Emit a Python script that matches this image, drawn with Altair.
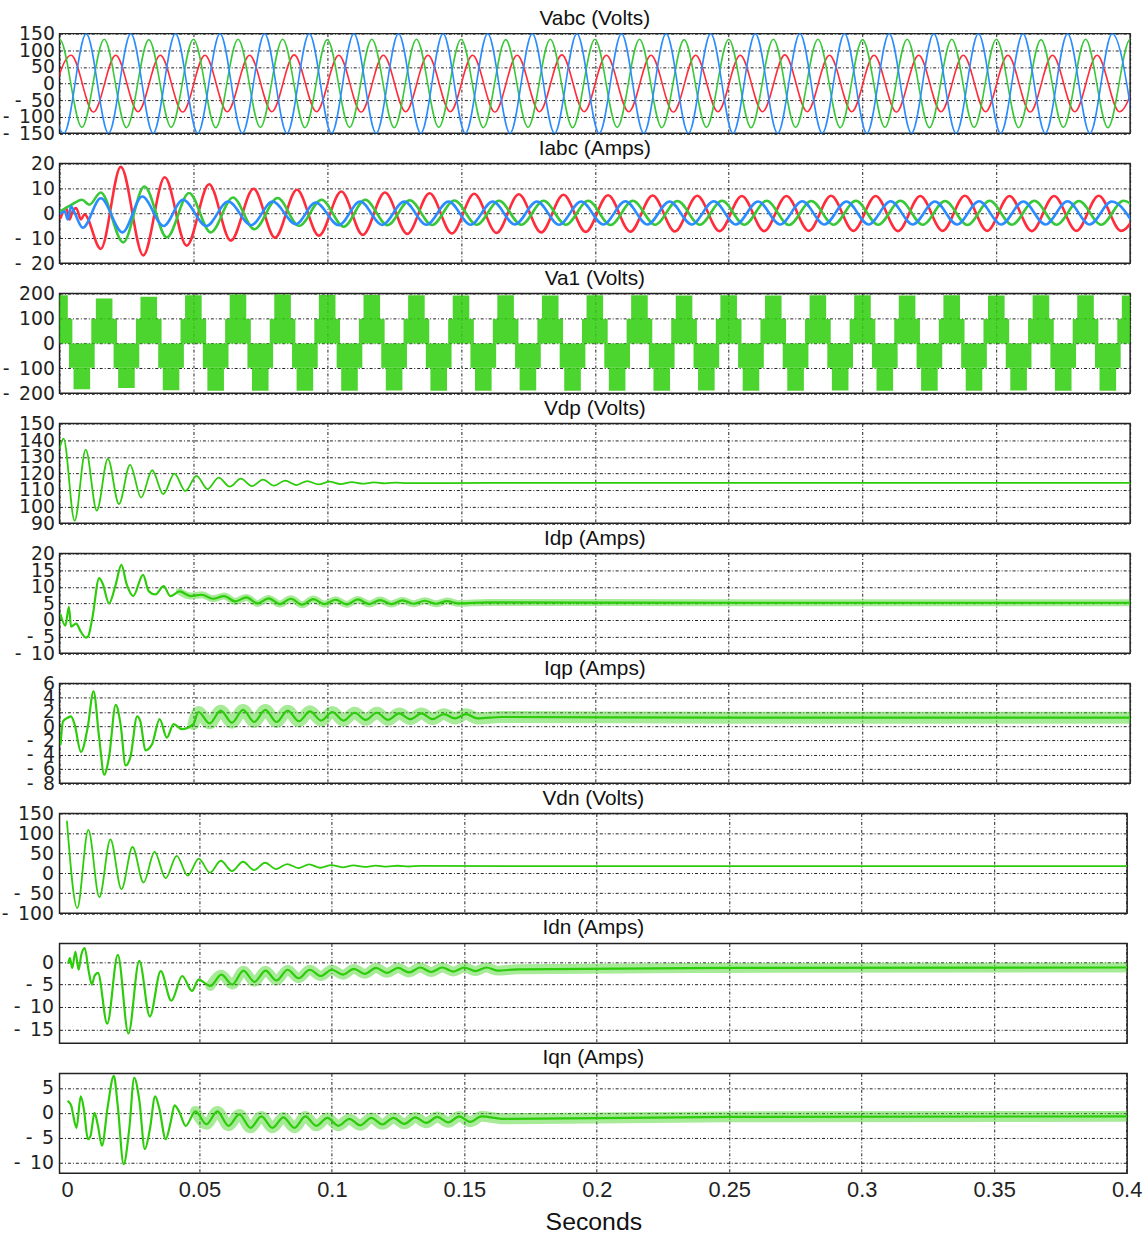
import altair as alt
import pandas as pd

PERIOD = 1 / 60
HALF = PERIOD / 2
X_TICKS = [0, 0.05, 0.1, 0.15, 0.2, 0.25, 0.3, 0.35, 0.4]

# ---------------- Vabc (Volts): one extremum every half period ----------------
vabc_a_start = -0.0040
vabc_a = [-85, 85, -86, 85, -85, 85, -86, 85, -85, 85,
          -85, 86, -85, 85, -86, 85, -85, 85, -85, 85,
          -86, 85, -85, 86, -85, 85, -85, 85, -86, 85,
          -85, 85, -85, 86, -85, 85, -85, 85, -86, 85,
          -85, 85, -85, 85, -86, 85, -85, 85, -85, 85]
vabc_b_start = -0.0083
vabc_b = [-132, 133, -132, 133, -133, 132, -132, 133, -133, 133,
          -132, 133, -133, 132, -132, 133, -133, 133, -132, 133,
          -133, 132, -132, 133, -133, 133, -132, 133, -133, 132,
          -132, 133, -133, 133, -132, 133, -133, 132, -132, 133,
          -133, 133, -132, 133, -133, 132, -132, 133, -133, 133, -132]
vabc_c_start = -0.0067
vabc_c = [150, -150, 150, -150, 150, -150, 150, -150, 150, -150,
          150, -150, 150, -150, 150, -150, 150, -150, 150, -150,
          150, -150, 150, -150, 150, -150, 150, -150, 150, -150,
          150, -150, 150, -150, 150, -150, 150, -150, 150, -150,
          150, -150, 150, -150, 150, -150, 150, -150, 150, -150]

# ---------------- Iabc (Amps) ----------------
ia_t = [0.0004, 0.0025, 0.0037, 0.0049, 0.0062, 0.0080, 0.0093, 0.0154, 0.0229, 0.0313,
        0.0393, 0.0475, 0.0559, 0.0640, 0.0725, 0.0805, 0.0887, 0.0969, 0.1053, 0.1133]
ia_v = [-1.7, 2.2, -2.4, 0.9, 2.2, -2.4, -0.4, -14.2, 18.7, -16.8,
        14.5, -12.9, 11.7, -10.9, 9.9, -9.7, 9.5, -8.9, 8.8, -8.6]
ia_start, ia_step = 0.1216, HALF
ia_cont = [8.4, -8.2, 8.1, -8.0, 7.9, -7.8, 7.7, -7.6, 7.5, -7.4,
           7.3, -7.3, 7.2, -7.2, 7.1, -7.1, 7.0, -7.1, 7.0, -7.0,
           7.1, -7.0, 7.0, -7.1, 7.0, -7.0, 7.1, -7.0, 7.0, -7.1,
           7.0, -7.0, 7.1, -7.0, 7.0]

ib_t = [0.0004, 0.0045, 0.0084, 0.0111, 0.0154, 0.0238, 0.0317, 0.0401, 0.0484, 0.0565,
        0.0648, 0.0728, 0.0815, 0.0895, 0.0979, 0.1062]
ib_v = [0.9, 3.5, 5.5, 3.5, 8.4, -11.6, 10.8, -9.6, 8.2, -7.6,
        6.4, -6.3, 6.2, -5.0, 5.5, -5.3]
ib_start, ib_step = 0.1142, HALF
ib_cont = [5.5, -4.7, 5.3, -4.6, 5.2, -4.5, 5.1, -4.5, 5.1, -4.5,
           5.1, -4.6, 5.1, -4.5, 5.0, -4.5, 5.1, -4.5, 5.1, -4.6,
           5.0, -4.5, 5.1, -4.5, 5.1, -4.5, 5.0, -4.6, 5.1, -4.5,
           5.1, -4.5, 5.0, -4.5, 5.1, -4.5]

ic_t = [0.0004, 0.0019, 0.0031, 0.0043, 0.0056, 0.0087, 0.0154, 0.0235, 0.0309, 0.0389,
        0.0461, 0.0549, 0.0630, 0.0716, 0.0796, 0.0883, 0.0957, 0.1043]
ic_v = [0.0, 0.9, -2.4, 2.9, 0.3, -5.7, 6.1, -7.6, 6.8, -5.0,
        5.5, -5.0, 4.8, -4.7, 4.8, -4.3, 4.4, -4.7]
ic_start, ic_step = 0.1123, 0.00826
ic_cont = [4.8, -4.6, 4.8, -4.5, 4.8, -4.5, 4.8, -4.4, 4.8, -4.5,
           4.8, -4.4, 4.9, -4.4, 4.8, -4.4, 4.9, -4.4, 4.8, -4.4,
           4.9, -4.4, 4.8, -4.4, 4.9, -4.4, 4.8, -4.4, 4.9, -4.4,
           4.8, -4.4, 4.9, -4.4, 4.8, -4.4]

# ---------------- Va1 (Volts): multilevel blocks per half cycle ----------------
va1_pos_top = [193, 180, 187, 193, 196, 196, 194, 194, 193, 192,
               193, 192, 193, 193, 192, 193, 192, 193, 193, 192,
               193, 192, 193, 193, 192]
va1_neg_bottom = [-184, -179, -188, -190, -190, -190, -190, -189, -190, -190,
                  -189, -190, -190, -190, -189, -190, -190, -189, -190, -190,
                  -190, -189, -190, -190]
va1_mid = [98, -98]
va1_mid_half = 0.0048
va1_peak_half = 0.0031

# ---------------- Vdp (Volts) ----------------
vdp_t = [0.0]
vdp_v = [135.0]
vdp_start, vdp_step = 0.0015, 0.00414
vdp_cont = [141.0, 91.5, 134.3, 97.6, 128.7, 101.6, 125.2, 105.5, 121.9, 107.5,
            119.9, 109.4, 118.5, 110.6, 117.5, 112.0, 116.9, 112.4, 116.3, 112.6,
            115.7, 113.0, 115.4, 113.4, 115.0, 113.6, 114.8, 113.8, 114.6, 114.0,
            114.5, 114.1]
vdp_tail_t = [0.16, 0.25, 0.4]
vdp_tail_v = [114.3, 114.3, 114.3]

# ---------------- Idp (Amps) ----------------
idp_t = [0.0004, 0.0022, 0.0035, 0.0043, 0.0062, 0.0080, 0.0099, 0.0107, 0.0123, 0.0148,
         0.0161, 0.0185, 0.0210, 0.0231, 0.0251, 0.0275, 0.0312, 0.0333, 0.0358, 0.0389, 0.0414]
idp_v = [1.6, -1.7, 4.0, -2.0, -1.1, -3.6, -5.3, -4.9, 0.8, 12.6,
         11.0, 5.0, 10.7, 16.6, 10.7, 7.2, 13.6, 8.7, 7.7, 10.2, 7.2]
idp_start, idp_step = 0.0448, 0.004167
idp_cont = [8.6, 7.2, 7.6, 6.4, 7.2, 5.6, 6.8, 5.0, 6.5, 4.8,
            6.4, 4.6, 6.3, 4.8, 6.1, 4.7, 6.2, 4.8, 6.0, 4.8,
            5.9, 4.9, 5.8, 4.9, 5.7, 5.0]
idp_tail_t = [0.16, 0.25, 0.4]
idp_tail_v = [5.3, 5.2, 5.2]

# ---------------- Iqp (Amps) ----------------
iqp_t = [0.0004, 0.0013, 0.0031, 0.0043, 0.0056, 0.0080, 0.0105, 0.0127, 0.0148, 0.0167,
         0.0185, 0.0210, 0.0228, 0.0247, 0.0265, 0.0290, 0.0302, 0.0321, 0.0346, 0.0374,
         0.0401, 0.0426, 0.0457, 0.0500]
iqp_v = [-2.5, 0.7, 1.2, 1.4, 0.3, -3.6, -0.2, 4.9, -1.6, -6.8,
         -4.3, 3.0, 0.3, -5.5, -4.3, 1.4, 0.7, -3.4, -2.5, 1.0,
         -1.6, 0.3, -0.4, 0.3]
iqp_start, iqp_step = 0.0519, 0.004167
iqp_cont = [2.0, 0.4, 2.2, 0.5, 2.3, 0.6, 2.3, 0.6, 2.2, 0.7,
            2.1, 0.8, 2.0, 0.8, 1.9, 0.9, 1.9, 0.9, 1.8, 1.0,
            1.8, 1.0, 1.7, 1.1, 1.7, 1.1]
iqp_tail_t = [0.165, 0.25, 0.4]
iqp_tail_v = [1.3, 1.2, 1.2]

# ---------------- Vdn (Volts) ----------------
vdn_t = [0.0]
vdn_v = [130.0]
vdn_start, vdn_step = 0.0039, 0.00417
vdn_cont = [-87, 109, -59.6, 85, -39.7, 66, -23, 54, -12.4, 44,
            -5.8, 37, 1.7, 31.5, 5.8, 29, 8.3, 26.5, 10.8, 23.2,
            13.2, 22.4, 14.0, 20.7, 15.2, 20.0, 16.0, 19.4, 16.6, 19.0,
            17.1, 18.6]
vdn_tail_t = [0.17, 0.25, 0.4]
vdn_tail_v = [18.0, 18.0, 18.0]

# ---------------- Idn (Amps) ----------------
idn_t = [0.0005, 0.0011, 0.0020, 0.0032, 0.0044, 0.0054, 0.0067, 0.0082, 0.0094, 0.0104,
         0.0117, 0.0152, 0.0192, 0.0232, 0.0273, 0.0313, 0.0354, 0.0394, 0.0435, 0.0472, 0.0497]
idn_v = [-0.2, 0.9, -1.3, 2.3, -1.7, 1.6, 3.1, -2.0, -5.0, -3.1,
         -2.4, -13.7, 1.6, -15.9, 0.3, -12.1, -2.0, -8.6, -3.1, -6.4, -3.9]
idn_start, idn_step = 0.0541, 0.00417
idn_cont = [-5.3, -2.8, -5.0, -1.9, -4.4, -1.9, -4.1, -1.7, -3.6, -1.7,
            -3.1, -1.7, -2.8, -1.5, -2.6, -1.3, -2.4, -1.3, -2.3, -1.2,
            -2.2, -1.2, -2.1, -1.2, -2.0, -1.2, -1.9]
idn_tail_t = [0.17, 0.25, 0.4]
idn_tail_v = [-1.6, -1.3, -1.2]

# ---------------- Iqn (Amps) ----------------
iqn_t = [0.0005, 0.0017, 0.0023, 0.0036, 0.0052, 0.0064, 0.0079, 0.0089, 0.0104, 0.0117,
         0.0132, 0.0154, 0.0177, 0.0192, 0.0214, 0.0235, 0.0254, 0.0273, 0.0294, 0.0313,
         0.0333, 0.0348, 0.0373, 0.0391, 0.0406, 0.0423, 0.0448]
iqn_v = [2.3, 1.3, -0.3, -3.0, 3.3, 0.7, -5.3, -4.6, 0.0, -2.6,
         -6.6, 1.3, 7.4, 1.3, -10.3, -3.3, 7.0, 2.6, -7.3, -3.3,
         3.3, 1.0, -5.3, -2.0, 1.5, 0.3, -2.6]
iqn_start, iqn_step = 0.0485, 0.00415
iqn_cont = [0.3, -2.3, 0.3, -2.6, -0.3, -3.0, -0.7, -3.0, -0.9, -3.0,
            -0.7, -2.6, -1.0, -2.6, -1.2, -2.5, -1.0, -2.3, -1.0, -2.2,
            -0.9, -2.0, -0.8, -1.9, -0.7, -1.8, -0.7]
iqn_tail_t = [0.165, 0.25, 0.4]
iqn_tail_v = [-1.2, -0.8, -0.7]

# ---------------- styling ----------------
RED = "#ff2d3c"
GREEN_ABC = "#38c838"
BLUE = "#2b8cff"
GREEN = "#2dcc0a"
GRID_DASH = [3, 2, 1, 2]
TICK_FONT = "DejaVu Sans"
TEXT_FONT = "Liberation Sans"
LABEL_EXPR = "datum.value < 0 ? '-\u2002' + format(-datum.value, 'd') : format(datum.value, 'd')"
W_TOP, W_BOT, H_PANEL = 1079, 1076, 100.5
DOM_TOP = [0, 0.4]
DOM_BOT = [-0.0028, 0.4002]
GRID_OPACITY = {"condition": {"test": "datum.value === 0", "value": 0}, "value": 1}


def build(t_list, v_list, start=None, step=None, cont=(), tail_t=(), tail_v=()):
    t = list(t_list) + [start + k * step for k in range(len(cont))] + list(tail_t)
    v = list(v_list) + list(cont) + list(tail_v)
    return pd.DataFrame({"t": t, "v": v})


def x_axis(bottom, shifted):
    kw = dict(values=X_TICKS, grid=True, gridColor="#222", gridDash=GRID_DASH,
              gridOpacity=GRID_OPACITY if shifted else 1, gridWidth=1,
              ticks=False, domain=False, labels=bottom)
    if bottom:
        kw.update(title="Seconds", labelFont=TEXT_FONT, labelFontSize=22, labelColor="#222",
                  labelPadding=7, format="~g", labelOverlap=False, labelFlush=False,
                  titleFont=TEXT_FONT, titleFontSize=25, titleFontWeight="normal",
                  titleColor="#111", titlePadding=9)
    else:
        kw.update(title=None)
    return alt.Axis(**kw)


def y_axis(ticks, pad):
    return alt.Axis(values=ticks, title=None, ticks=False, domain=False, grid=True,
                    gridColor="#222", gridDash=GRID_DASH, gridOpacity=1, gridWidth=1,
                    labelFont=TICK_FONT, labelFontSize=19, labelColor="#222",
                    labelPadding=pad, labelOverlap=False, labelFlush=False,
                    labelBound=False, labelExpr=LABEL_EXPR)


def panel(title, specs, ydom, yticks, lower=False, bottom=False, pad=5, title_offset=-4):
    xs = alt.Scale(domain=DOM_BOT if lower else DOM_TOP, nice=False, zero=False)
    ys = alt.Scale(domain=ydom, nice=False, zero=False)
    xa, ya = x_axis(bottom, lower), y_axis(yticks, pad)
    layers = []
    for spec in specs:
        if spec["kind"] == "rect":
            layers.append(
                alt.Chart(spec["df"]).mark_rect(clip=True, color=spec["color"],
                                                opacity=spec.get("opacity", 1.0))
                .encode(x=alt.X("t1:Q", scale=xs, axis=xa), x2="t2:Q",
                        y=alt.Y("y1:Q", scale=ys, axis=ya), y2="y2:Q"))
        else:
            layers.append(
                alt.Chart(spec["df"]).mark_line(interpolate="monotone", clip=True,
                                                color=spec["color"], strokeWidth=spec["w"],
                                                opacity=spec.get("opacity", 1.0),
                                                strokeJoin="round", strokeCap="round")
                .encode(x=alt.X("t:Q", scale=xs, axis=xa), y=alt.Y("v:Q", scale=ys, axis=ya)))
    return alt.layer(*layers).properties(
        width=W_BOT if lower else W_TOP, height=H_PANEL,
        title=alt.Title(title, offset=title_offset))


def noisy(df, t_from, band_w, base_w=2.2):
    return [
        {"kind": "line", "df": df[df.t >= t_from], "color": GREEN, "w": band_w, "opacity": 0.42},
        {"kind": "line", "df": df, "color": GREEN, "w": base_w},
    ]


# Vabc
df_va = build([], [], vabc_a_start, HALF, vabc_a)
df_vb = build([], [], vabc_b_start, HALF, vabc_b)
df_vc = build([], [], vabc_c_start, HALF, vabc_c)
p1 = panel("Vabc (Volts)", [
    {"kind": "line", "df": df_va, "color": RED, "w": 1.6},
    {"kind": "line", "df": df_vb, "color": GREEN_ABC, "w": 1.6},
    {"kind": "line", "df": df_vc, "color": BLUE, "w": 1.6},
], [-150, 150], [-150, -100, -50, 0, 50, 100, 150])

# Iabc
df_ia = build(ia_t, ia_v, ia_start, ia_step, ia_cont)
df_ib = build(ib_t, ib_v, ib_start, ib_step, ib_cont)
df_ic = build(ic_t, ic_v, ic_start, ic_step, ic_cont)
p2 = panel("Iabc (Amps)", [
    {"kind": "line", "df": df_ia, "color": RED, "w": 2.6},
    {"kind": "line", "df": df_ib, "color": GREEN_ABC, "w": 2.6},
    {"kind": "line", "df": df_ic, "color": BLUE, "w": 2.6},
], [-20, 20], [-20, -10, 0, 10, 20])

# Va1
rows = []
for k, top in enumerate(va1_pos_top):
    c = k * PERIOD
    rows.append({"t1": c - va1_mid_half, "t2": c + va1_mid_half, "y1": 0, "y2": va1_mid[0]})
    rows.append({"t1": c - va1_peak_half, "t2": c + va1_peak_half, "y1": va1_mid[0], "y2": top})
for k, bot in enumerate(va1_neg_bottom):
    c = HALF + k * PERIOD
    rows.append({"t1": c - va1_mid_half, "t2": c + va1_mid_half, "y1": 0, "y2": va1_mid[1]})
    rows.append({"t1": c - va1_peak_half, "t2": c + va1_peak_half, "y1": va1_mid[1], "y2": bot})
df_va1 = pd.DataFrame(rows)
p3 = panel("Va1 (Volts)", [
    {"kind": "rect", "df": df_va1, "color": GREEN, "opacity": 0.85},
], [-200, 200], [-200, -100, 0, 100, 200])

# Vdp
df_vdp = build(vdp_t, vdp_v, vdp_start, vdp_step, vdp_cont, vdp_tail_t, vdp_tail_v)
p4 = panel("Vdp (Volts)", [{"kind": "line", "df": df_vdp, "color": GREEN, "w": 1.8}],
           [90, 150], [90, 100, 110, 120, 130, 140, 150])

# Idp
df_idp = build(idp_t, idp_v, idp_start, idp_step, idp_cont, idp_tail_t, idp_tail_v)
p5 = panel("Idp (Amps)", noisy(df_idp, 0.044, 7), [-10, 20], [-10, -5, 0, 5, 10, 15, 20])

# Iqp
df_iqp = build(iqp_t, iqp_v, iqp_start, iqp_step, iqp_cont, iqp_tail_t, iqp_tail_v)
p6 = panel("Iqp (Amps)", noisy(df_iqp, 0.048, 12), [-8, 6], [-8, -6, -4, -2, 0, 2, 4, 6])

# Vdn
df_vdn = build(vdn_t, vdn_v, vdn_start, vdn_step, vdn_cont, vdn_tail_t, vdn_tail_v)
p7 = panel("Vdn (Volts)", [{"kind": "line", "df": df_vdn, "color": GREEN, "w": 1.8}],
           [-100, 150], [-100, -50, 0, 50, 100, 150], lower=True, pad=6)

# Idn
df_idn = build(idn_t, idn_v, idn_start, idn_step, idn_cont, idn_tail_t, idn_tail_v)
p8 = panel("Idn (Amps)", noisy(df_idn, 0.05, 10), [-18.06, 4.15], [-15, -10, -5, 0],
           lower=True, pad=6, title_offset=5.5)

# Iqn
df_iqn = build(iqn_t, iqn_v, iqn_start, iqn_step, iqn_cont, iqn_tail_t, iqn_tail_v)
p9 = panel("Iqn (Amps)", noisy(df_iqn, 0.045, 11), [-12.1, 7.9], [-10, -5, 0, 5],
           lower=True, bottom=True, pad=6, title_offset=5.5)

chart = (
    alt.vconcat(p1, p2, p3, p4, p5, p6, p7, p8, p9, spacing=30, bounds="flush")
    .properties(padding={"left": 0, "top": 2, "right": 4, "bottom": 4}, background="white")
    .configure_view(stroke="#222", strokeWidth=1.5)
    .configure_title(font=TEXT_FONT, fontSize=21, fontWeight="normal", color="#111",
                     anchor="middle", frame="group")
)

chart.save("out.html", embed_options={"renderer": "svg", "actions": False})
